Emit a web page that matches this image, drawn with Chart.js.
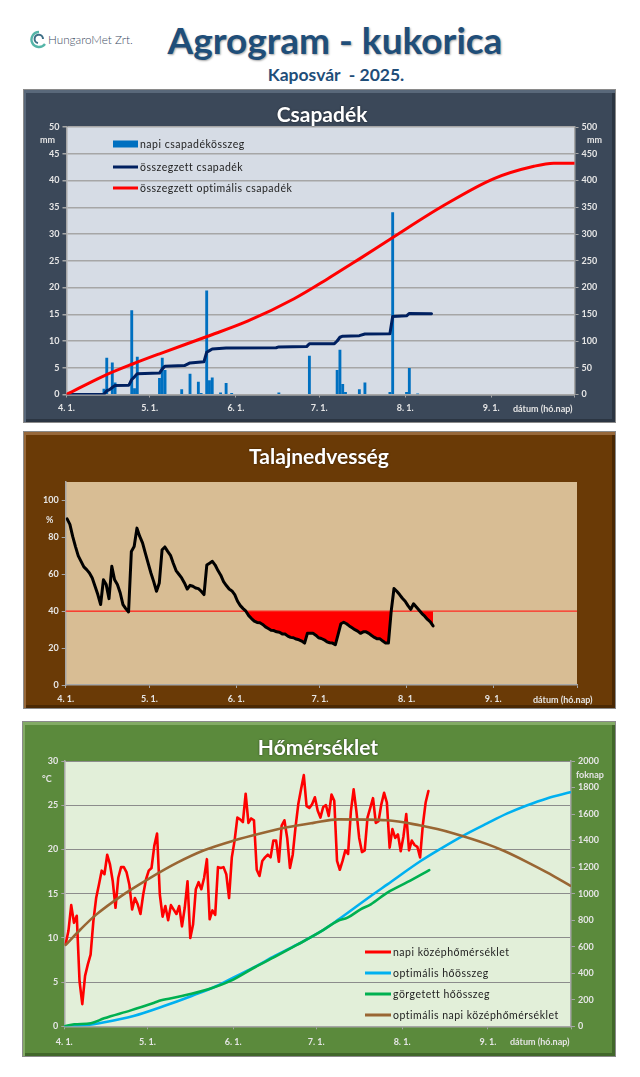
<!DOCTYPE html>
<html lang="hu"><head><meta charset="utf-8"><title>Agrogram - kukorica</title>
<script src="https://cdn.jsdelivr.net/npm/chart.js@4/dist/chart.umd.min.js"></script>
<style>
html,body{margin:0;padding:0;background:#fff;width:640px;height:1077px;overflow:hidden;font-family:Lato,sans-serif}
.t{position:absolute;white-space:pre;line-height:1;transform:translateY(-50%)}
.panel{position:absolute;box-sizing:border-box;border:1px solid #8a8a8a}
.panel canvas{position:absolute;left:0;top:0}
.ptitle{font-weight:700;font-size:21px;color:#fff;transform:translate(-50%,-50%);text-shadow:0 0 2px rgba(0,0,0,.6)}
.unit{font-weight:700;font-size:9px;color:#e4e4e4}
.leg{font-size:10.5px;color:#222;letter-spacing:.5px}
.sw{position:absolute;transform:translateY(-50%)}
</style></head><body>
<div id="root"></div>
<script>
// ---------- shared axis ----------
const monthTicks=[0,30,61,91,122,153,183];
const monthLabels=["4. 1.","5. 1.","6. 1.","7. 1.","8. 1.","9. 1.",""];
// ---------- Csapadek ----------
const rainDays=[13,14,16,17,23,24,25,33,34,35,41,44,47,48,50,51,52,55,57,59,76,87,97,98,99,100,105,107,116,117,122,123,126];
const rainMm=[1,6.8,5.9,2.2,15.7,1.1,7,3,6.8,4.5,0.9,3.8,2.3,0.2,19.4,2.6,3.1,0.3,2.1,0.2,0.3,7.2,4.5,8.3,1.9,0.4,0.9,2.2,0.4,34,0.4,4.9,0.1];
const sumRainDays=[0,13,14,15,16,17,22,23,24,25,33,34,35,42,44,49,50,51,52,57,75,76,86,87,96,97,98,99,105,107,116,117,122,123,131];
const sumRain=[0,0.5,7,9,13,17,17.5,28,33,39,40,48,53,54,59,61,79,82,85,87,87.5,89,89.5,95,95,100,107,109,110,113,113.5,146,147,151.5,151];
const optRainDays=[0,13.5,23.8,34,50.4,65.2,82,94,102,105.4,117.4,136,154,168.4,175.5,183];
const optRain=[0,35,57,77,108,137,179,216,242,253,293,353.6,403.6,426.6,432.4,432.4];
// ---------- Talajnedvesseg ----------
const soil=[90,87,80.5,75,70,67,64,62.5,60.7,58,53.5,49,43.6,57,54.4,46.8,64.3,57,54.4,50,43.6,41.4,39.6,72.4,75,85,80.5,77,71.5,66,60.7,56,50.8,55.3,73.3,74.8,72.4,70.3,66,62,60,58,55.3,52,54,53.5,52.6,52.2,50.8,49,65,66,67,65,62,59.5,56,53.9,52,51,49,45.4,43,41.4,40,37.6,36,34.6,33.9,33.7,32.8,31.5,30.6,29.7,29.5,28.8,28.6,27.7,27.6,26.5,25.8,25.6,24.9,24.5,23.8,22.7,28,28,28,27,25.6,25.2,24.5,23.4,22.9,22.7,21.8,27.4,33.2,34,33.2,32,31,30,29.2,28,28.8,28.8,28,26.8,25.8,25,25,23.8,22.7,22.7,40,52.3,50.8,49,47,45.4,43,41,44,42.3,40.5,38.7,37.3,35.5,34.2,32];
const soilLimitDays=[0,183];
const soilLimit=[40,40];
// ---------- Homerseklet ----------
const tempDaily=[9.3,10.8,13.7,11.7,12.5,5.1,2.5,5.7,7,8.1,11.9,14.5,16,17.6,17.2,19.4,18.3,16.4,13.4,16.8,18,18,17.4,16,13.2,14.5,13.8,12.7,14.9,16.6,17.6,17.9,20.4,21.8,14.9,12.4,13.6,12,13.7,13.2,12.7,13.6,11.3,13.4,16.4,10,11.5,15.5,16.3,15.5,16.8,18.9,12.1,13.1,12.6,18,17.9,18,17.2,14.5,19.1,21,23.6,23.4,23.1,26.3,23,23.5,23.3,17.7,17,18.7,19.1,19.4,19.1,21,21,18.6,22.7,23.3,21.3,17.9,19.4,22.5,25.1,26.8,28.4,24.9,24.7,25.1,25.9,24.4,23.6,24.8,25,23.8,26.2,25.5,18.7,17.7,18.7,19.9,19.5,24.3,26.8,24.3,21.3,19.7,19.9,23.6,24.7,25.8,23,23.2,25.1,26.4,25.3,20.2,22.3,21.3,21.7,19.8,21.5,24,19.9,21,20.5,20.3,19.1,22.8,25.3,26.6];
const optHeatDays=[0,8,14,25,36,46,55,61,69,76,84,92.7,98.7,110.7,116.7,128.7,136,144.3,152.7,160,167,174.3,182.7];
const optHeat=[0,8,28,78,153,229,304,367,450,530,615,715,800,982,1070,1246,1340,1440,1530,1605,1665,1718,1764];
const heatSumDays=[0,3.6,9.6,14.4,24,32.5,35,42,52,60,69,76,84,92.7,98.7,102.3,107,110.7,116.7,124,131.8];
const heatSum=[0,15,23,60,120,178,196,226,279,342,447,523,613,715,794,819,882,920,1008,1088,1178];
const optTempDays=[0.5,6,11.4,20.4,30.6,40.8,50.5,61.2,70.8,80.5,90,99,116.7,128.7,134.7,140.7,152.7,158.7,167,174.3,182.7];
const optTemp=[9.2,11,12.6,14.7,16.7,18.5,19.9,21,21.8,22.5,23,23.4,23.3,22.7,22.3,21.8,20.6,19.85,18.6,17.4,15.9];

const names1=["napi csapadékösszeg","összegzett csapadék","összegzett optimális csapadék"];
const names3=["napi középhőmérséklet","optimális hőösszeg","görgetett hőösszeg","optimális napi középhőmérséklet"];
const RED="#ff0000",NAVY="#002060",BAR="#0070c0",SKY="#00b0f0",GREEN="#00b050",BROWN="#996633";
const SMOOTH={cubicInterpolationMode:"monotone"};

const daily=v=>v.map((y,i)=>({x:i+0.5,y}));
const atDays=(d,v,off=0)=>d.map((x,i)=>({x:x+off,y:v[i]}));
const line=(label,data,color,width,yAxisID,order,extra={})=>Object.assign({type:"line",label,data,borderColor:color,backgroundColor:color,borderWidth:width,pointRadius:0,tension:0,yAxisID,order,borderJoinStyle:"round",borderCapStyle:"round"},extra);

const root=document.getElementById("root");
function el(cls,txt,x,y,css){const d=document.createElement("div");d.className="t "+cls;d.textContent=txt;d.style.left=x+"px";d.style.top=y+"px";if(css)d.style.cssText+=";"+css;root.appendChild(d);return d;}
function panel(x,y,w,h,bg,light,dark){const p=document.createElement("div");p.className="panel";p.style.cssText=`left:${x}px;top:${y}px;width:${w}px;height:${h}px;background:${bg};box-shadow:inset 0 3px 0 ${light},inset 2px 0 0 ${light},inset -3px 0 0 ${dark},inset 0 -3px 0 ${dark}`;
 const c=document.createElement("canvas");c.width=w;c.height=h;c.style.width=w+"px";c.style.height=h+"px";p.appendChild(c);root.appendChild(p);return c;}
const plotBg=color=>({id:"plotBg",beforeDraw(ch){const a=ch.chartArea,c=ch.ctx;c.save();c.fillStyle=color;c.fillRect(a.left,a.top,a.right-a.left,a.bottom-a.top);c.restore();}});
const tickFont={family:"Lato",size:9,weight:"700"};
const TC="#e6e6e6";
function xScale(h,color,pad){return {type:"linear",min:0,max:183,offset:false,
 afterBuildTicks:s=>{s.ticks=monthTicks.map(value=>({value}));},afterFit:s=>{s.height=h;},
 grid:{drawOnChartArea:false,offset:false,color,tickLength:3},border:{color,width:1.5},
 ticks:{autoSkip:false,maxRotation:0,minRotation:0,includeBounds:false,padding:pad,color:TC,font:tickFont,callback:(v)=>monthLabels[monthTicks.indexOf(v)]}};}
function yScale(pos,w,min,max,step,color,gridColor,gridW,tl=4){return {type:"linear",position:pos,min,max,afterFit:s=>{s.width=w;},
 grid:{drawOnChartArea:!!gridColor,color:gridColor||color,lineWidth:gridW||1,tickColor:color,tickLength:tl},border:{color,width:1.5},
 ticks:{stepSize:step,includeBounds:false,autoSkip:false,padding:3,color:TC,font:tickFont,callback:v=>String(v)}};}
const common=(padTop,padRight)=>({responsive:false,animation:false,events:[],layout:{padding:{left:0,right:padRight,top:padTop,bottom:0}},plugins:{legend:{display:false},title:{display:false},tooltip:{enabled:false}}});

// --- header ---
el("","HungaroMet Zrt.",48,40,"font-size:11.7px;color:#3c4b63;font-weight:300");
const logo=document.createElementNS("http://www.w3.org/2000/svg","svg");
logo.setAttribute("width","18");logo.setAttribute("height","20");logo.style.cssText="position:absolute;left:30px;top:30px";
logo.innerHTML='<path d="M9 2A7.5 7.5 0 1 0 15 14" fill="none" stroke="#55b5a8" stroke-width="2.4"/><path d="M13 9A4.2 4.2 0 1 0 8 13" fill="none" stroke="#3e6f86" stroke-width="2"/>';
root.appendChild(logo);
el("","Agrogram - kukorica",335,39,"transform:translate(-50%,-50%);font-size:37px;font-weight:700;color:#1f4e79;text-shadow:1px 1px 2px rgba(0,0,0,.35)");
el("","Kaposvár  - 2025.",336,75,"transform:translate(-50%,-50%);font-size:17.5px;font-weight:700;color:#1f4e79");

// --- Csapadek ---
{const c=panel(23,89,593,334,"#3b4859","#59687a","#2b3542");
 new Chart(c,{type:"line",plugins:[plotBg("#d6dce5")],data:{datasets:[
  {type:"bar",label:names1[0],data:rainDays.map((d,i)=>({x:d+0.5,y:rainMm[i]})),backgroundColor:BAR,barThickness:2.2,yAxisID:"y",order:3},
  line(names1[1],atDays(sumRainDays,sumRain,0.5),NAVY,3,"y1",2),
  line(names1[2],atDays(optRainDays,optRain),RED,3,"y1",1,SMOOTH)]},
 options:Object.assign(common(37,0),{scales:{x:xScale(29.5,"#a6a6a6",5),y:yScale("left",42.5,0,50,5,"#a6a6a6","#a6a6a6",1.5),y1:yScale("right",42.5,0,500,50,"#a6a6a6",null)}})});
 el("ptitle","Csapadék",322,112.5);
 el("unit","mm",40,139);el("unit","mm",587,139);
 el("unit","dátum (hó.nap)",513,407.5);
 [144,166.5,188].forEach((y,i)=>{const s=document.createElement("div");s.className="sw";s.style.cssText=`left:113px;top:${y}px;width:25px;height:${i?3:7}px;background:${[BAR,NAVY,RED][i]}`;root.appendChild(s);el("leg",names1[i],140,y);});
}
// --- Talajnedvesseg ---
{const c=panel(23,431,593,278,"#6a3a06","#97683a","#4a2803");
 new Chart(c,{type:"line",plugins:[plotBg("#d8bd94")],data:{datasets:[
  line("talajnedvesség",daily(soil),"#000",3,"y",1,{fill:{target:{value:40},above:"rgba(0,0,0,0)",below:RED}}),
  line("határérték",atDays(soilLimitDays,soilLimit),"#ff2a20",1.2,"y",2)]},
 options:Object.assign(common(50,40),{scales:{x:xScale(25,"#a6a6a6",6),y:yScale("left",41.7,0,110,20,"#a6a6a6",null)}})});
 el("ptitle","Talajnedvesség",319,454.5);
 el("unit","%",46,519);
 el("unit","dátum (hó.nap)",533,699);
}
// --- Homerseklet ---
{const c=panel(22,721,594,336,"#5b8a3c","#83ab65","#41672a");
 new Chart(c,{type:"line",plugins:[plotBg("#e2efd9")],data:{datasets:[
  line(names3[3],atDays(optTempDays,optTemp),BROWN,2.6,"y",1,SMOOTH),
  line(names3[2],atDays(heatSumDays,heatSum),GREEN,2.6,"y1",2,SMOOTH),
  line(names3[1],atDays(optHeatDays,optHeat),SKY,2.6,"y1",3,SMOOTH),
  line(names3[0],daily(tempDaily),RED,2.6,"y",4)]},
 options:Object.assign(common(39,0),{scales:{x:xScale(31.7,"#a6a6a6",7),y:yScale("left",41.3,0,30,5,"#a6a6a6","#8c8c8c",1,3),y1:yScale("right",46,0,2000,200,"#a6a6a6",null)}})});
 el("ptitle","Hőmérséklet",318,745.5);
 el("unit","°C",42,778);el("unit","foknap",576,774);
 el("unit","dátum (hó.nap)",510,1041);
 [952,973.3,994.3,1014.7].forEach((y,i)=>{const s=document.createElement("div");s.className="sw";s.style.cssText=`left:365px;top:${y}px;width:26px;height:3px;background:${[RED,SKY,GREEN,BROWN][i]}`;root.appendChild(s);el("leg",names3[i],393,y);});
}
</script></body></html>
